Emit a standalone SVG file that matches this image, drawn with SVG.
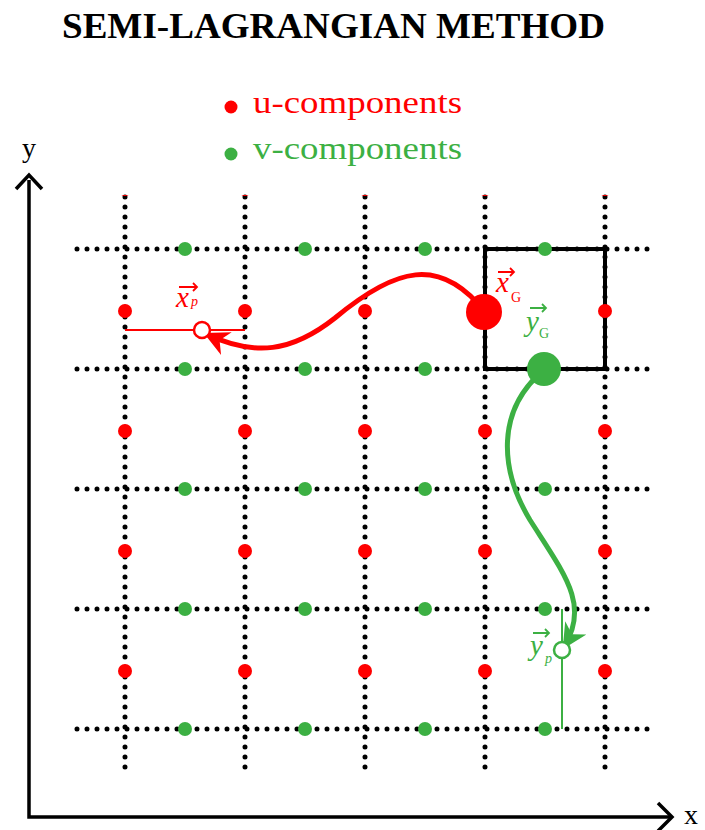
<svg xmlns="http://www.w3.org/2000/svg" width="705" height="830" viewBox="0 0 705 830">
<style>
.grid{stroke:#000;stroke-width:5;stroke-dasharray:0 10;stroke-linecap:round;fill:none}
.u{fill:#ff0000}
.v{fill:#3cb043}
.serif{font-family:"Liberation Serif","Times New Roman",serif}
.axis{stroke:#000;stroke-width:3.5;fill:none}
.lbl{font-family:"Liberation Serif","Times New Roman",serif;font-size:29px;font-style:italic}
.sub{font-family:"Liberation Serif","Times New Roman",serif;font-size:14px}
</style>
<defs>
<clipPath id="topclip"><rect x="0" y="195" width="705" height="640"/></clipPath>
<marker id="ra" viewBox="0 0 10 10" refX="9" refY="5" markerWidth="5" markerHeight="5" orient="auto" markerUnits="strokeWidth"><path d="M0,0 L10,5 L0,10 L3,5 Z" fill="#ff0000"/></marker>
<marker id="ga" viewBox="0 0 10 10" refX="9" refY="5" markerWidth="5" markerHeight="5" orient="auto" markerUnits="strokeWidth"><path d="M0,0 L10,5 L0,10 L3,5 Z" fill="#3cb043"/></marker>
</defs>
<rect width="705" height="830" fill="#fff"/>
<text class="serif" x="62" y="38" font-size="36" font-weight="bold" textLength="543" lengthAdjust="spacingAndGlyphs">SEMI-LAGRANGIAN METHOD</text>
<g id="legend">
<circle class="u" cx="231" cy="107" r="6.5"/>
<text class="serif" x="253" y="113" font-size="31" fill="#ff0000" textLength="209" lengthAdjust="spacingAndGlyphs">u-components</text>
<circle class="v" cx="231" cy="154" r="6.5"/>
<text class="serif" x="253" y="159" font-size="31" fill="#3cb043" textLength="209" lengthAdjust="spacingAndGlyphs">v-components</text>
</g>
<g id="axes">
<path class="axis" d="M29,180 L29,817 L670,817"/>
<path class="axis" d="M16,189 L29,175 L42,189"/>
<path class="axis" d="M658,803 L672,817 L658,831"/>
<text class="serif" x="22" y="157" font-size="28">y</text>
<text class="serif" x="684" y="824" font-size="28">x</text>
</g>
<g id="grid">
<path class="grid" d="M125,197V777M245,197V777M365,197V777M485,197V777M605,197V777"/>
<path class="grid" d="M77,249H657M77,369H657M77,489H657M77,609H657M77,729H657"/>
</g>
<g id="cell">
<rect x="485" y="249" width="120" height="120" fill="none" stroke="#000" stroke-width="4"/>
</g>
<g id="u-points">
<g clip-path="url(#topclip)">
<circle class="u" cx="125" cy="189" r="7"/><circle class="u" cx="245" cy="189" r="7"/><circle class="u" cx="365" cy="189" r="7"/><circle class="u" cx="485" cy="189" r="7"/><circle class="u" cx="605" cy="189" r="7"/>
</g>
<circle class="u" cx="125" cy="311" r="7"/><circle class="u" cx="245" cy="311" r="7"/><circle class="u" cx="365" cy="311" r="7"/><circle class="u" cx="605" cy="311" r="7"/>
<circle class="u" cx="125" cy="431" r="7"/><circle class="u" cx="245" cy="431" r="7"/><circle class="u" cx="365" cy="431" r="7"/><circle class="u" cx="485" cy="431" r="7"/><circle class="u" cx="605" cy="431" r="7"/>
<circle class="u" cx="125" cy="551" r="7"/><circle class="u" cx="245" cy="551" r="7"/><circle class="u" cx="365" cy="551" r="7"/><circle class="u" cx="485" cy="551" r="7"/><circle class="u" cx="605" cy="551" r="7"/>
<circle class="u" cx="125" cy="671" r="7"/><circle class="u" cx="245" cy="671" r="7"/><circle class="u" cx="365" cy="671" r="7"/><circle class="u" cx="485" cy="671" r="7"/><circle class="u" cx="605" cy="671" r="7"/>
</g>
<g id="v-points">
<circle class="v" cx="185" cy="249" r="7"/><circle class="v" cx="305" cy="249" r="7"/><circle class="v" cx="425" cy="249" r="7"/><circle class="v" cx="545" cy="249" r="7"/>
<circle class="v" cx="185" cy="369" r="7"/><circle class="v" cx="305" cy="369" r="7"/><circle class="v" cx="425" cy="369" r="7"/>
<circle class="v" cx="185" cy="489" r="7"/><circle class="v" cx="305" cy="489" r="7"/><circle class="v" cx="425" cy="489" r="7"/><circle class="v" cx="545" cy="489" r="7"/>
<circle class="v" cx="185" cy="609" r="7"/><circle class="v" cx="305" cy="609" r="7"/><circle class="v" cx="425" cy="609" r="7"/><circle class="v" cx="545" cy="609" r="7"/>
<circle class="v" cx="185" cy="729" r="7"/><circle class="v" cx="305" cy="729" r="7"/><circle class="v" cx="425" cy="729" r="7"/><circle class="v" cx="545" cy="729" r="7"/>
</g>
<g id="connectors">
<line x1="125" y1="330" x2="245" y2="330" stroke="#ff0000" stroke-width="2"/>
<line x1="562" y1="609" x2="562" y2="729" stroke="#3cb043" stroke-width="2"/>
<path d="M485,312 C440,255 395,268 335,318 C292,352 255,357 206,334" fill="none" stroke="#ff0000" stroke-width="5" marker-end="url(#ra)"/>
<path d="M545,369 C495,410 500,470 530,520 C565,575 590,605 564,647" fill="none" stroke="#3cb043" stroke-width="5" marker-end="url(#ga)"/>
</g>
<g id="xG">
<circle cx="484" cy="312" r="18" fill="#ff0000"/>
<text class="lbl" x="496" y="292" fill="#ff0000">x</text>
<text class="sub" x="511" y="302" fill="#ff0000">G</text>
<path d="M498,272 H514 M510,268 L514,272 L510,276" stroke="#ff0000" stroke-width="1.8" fill="none"/>
</g>
<g id="yG">
<circle cx="544" cy="369" r="17" fill="#3cb043"/>
<text class="lbl" x="526" y="331" fill="#3cb043">y</text>
<text class="sub" x="539" y="338" fill="#3cb043">G</text>
<path d="M530,308 H546 M542,304 L546,308 L542,312" stroke="#3cb043" stroke-width="1.8" fill="none"/>
</g>
<g id="xP">
<circle cx="202" cy="330" r="8" fill="#fff" stroke="#ff0000" stroke-width="2.5"/>
<text class="lbl" x="176" y="307" fill="#ff0000">x</text>
<text class="sub" x="191" y="306" font-style="italic" fill="#ff0000">p</text>
<path d="M179,287 H197 M193,283 L197,287 L193,291" stroke="#ff0000" stroke-width="1.8" fill="none"/>
</g>
<g id="yP">
<circle cx="562" cy="650" r="8" fill="#fff" stroke="#3cb043" stroke-width="2.5"/>
<text class="lbl" x="530" y="655" fill="#3cb043">y</text>
<text class="sub" x="545" y="663" font-style="italic" fill="#3cb043">p</text>
<path d="M533,633 H549 M545,629 L549,633 L545,637" stroke="#3cb043" stroke-width="1.8" fill="none"/>
</g>
</svg>
